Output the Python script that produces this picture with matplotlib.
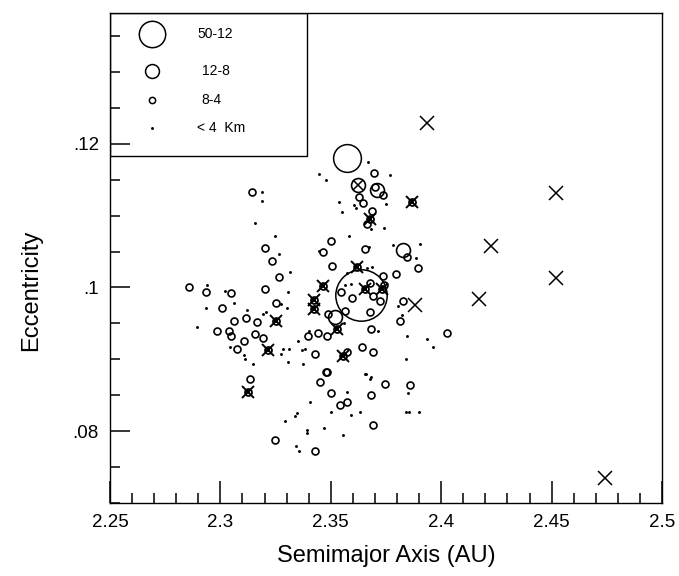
import numpy as np
import matplotlib.pyplot as plt
from matplotlib.patches import Rectangle
from matplotlib.ticker import MultipleLocator, FixedLocator

plt.rcParams["font.family"] = ["Liberation Sans", "DejaVu Sans"]

# asteroids < 4 km
tiny_a = [2.3446, 2.3187, 2.3187, 2.3156, 2.3246, 2.3264, 2.3446, 2.3668, 2.3477, 2.3767,
          2.3536, 2.3550, 2.3604, 2.3613, 2.3749, 2.3681, 2.3740, 2.3582, 2.3672, 2.3781,
          2.3903, 2.3885, 2.3663, 2.3686, 2.3573, 2.3564, 2.3591, 2.3804, 2.3822, 2.3559,
          2.3713, 2.3845, 2.3935, 2.3962, 2.3840, 2.3659, 2.3681, 2.3314, 2.2938, 2.3020,
          2.3305, 2.3061, 2.3274, 2.3301, 2.2934, 2.3119, 2.3192, 2.3206, 2.3042, 2.3106,
          2.3110, 2.3147, 2.3283, 2.3310, 2.3274, 2.3351, 2.3369, 2.3382, 2.3305, 2.3373,
          2.3400, 2.2893, 2.3573, 2.3654, 2.3677, 2.3405, 2.3500, 2.3591, 2.3631, 2.3346,
          2.3337, 2.3292, 2.3391, 2.3391, 2.3468, 2.3554, 2.3341, 2.3355, 2.3849, 2.3840,
          2.3854, 2.3899]
tiny_e = [0.1158, 0.1133, 0.1120, 0.1090, 0.1072, 0.1046, 0.1051, 0.1175, 0.1150, 0.1157,
          0.1119, 0.1105, 0.1115, 0.1111, 0.1116, 0.1081, 0.1083, 0.1072, 0.1056, 0.1059,
          0.1060, 0.1041, 0.1027, 0.1028, 0.1020, 0.1003, 0.1005, 0.0974, 0.0961, 0.0950,
          0.0940, 0.0933, 0.0928, 0.0917, 0.0900, 0.0880, 0.0875, 0.1021, 0.1003, 0.0995,
          0.0993, 0.0979, 0.0977, 0.0972, 0.0972, 0.0968, 0.0963, 0.0966, 0.0917, 0.0906,
          0.0901, 0.0894, 0.0915, 0.0915, 0.0907, 0.0925, 0.0913, 0.0914, 0.0896, 0.0894,
          0.0940, 0.0945, 0.0854, 0.0879, 0.0873, 0.0840, 0.0826, 0.0823, 0.0826, 0.0825,
          0.0821, 0.0814, 0.0802, 0.0797, 0.0804, 0.0794, 0.0779, 0.0773, 0.0853, 0.0826,
          0.0827, 0.0827]

# 8-4 km
small_a = [2.3142, 2.3201, 2.3233, 2.3695, 2.3627, 2.3645, 2.3736, 2.3686, 2.3663, 2.3500,
           2.3464, 2.3654, 2.3845, 2.3505, 2.3894, 2.3736, 2.3795, 2.3677, 2.3740, 2.3545,
           2.3595, 2.3690, 2.3722, 2.3826, 2.3564, 2.3677, 2.3487, 2.3813, 2.3681, 2.3482,
           2.3641, 2.3690, 2.3573, 2.3482, 2.3264, 2.2934, 2.3047, 2.3201, 2.3251, 2.3006,
           2.3061, 2.3115, 2.3165, 2.3156, 2.2984, 2.3038, 2.3047, 2.3192, 2.3106, 2.3074,
           2.3428, 2.3396, 2.3441, 2.3133, 2.3477, 2.3450, 2.3500, 2.3745, 2.3681, 2.3541,
           2.3573, 2.3690, 2.3246, 2.3428, 2.3858, 2.2857, 2.4026, 2.3700]
small_e = [0.1133, 0.1055, 0.1037, 0.1159, 0.1126, 0.1118, 0.1129, 0.1106, 0.1088, 0.1065,
           0.1049, 0.1053, 0.1042, 0.1030, 0.1027, 0.1016, 0.1019, 0.1006, 0.1003, 0.0993,
           0.0986, 0.0988, 0.0981, 0.0981, 0.0967, 0.0966, 0.0963, 0.0954, 0.0942, 0.0933,
           0.0917, 0.0910, 0.0910, 0.0883, 0.1014, 0.0993, 0.0992, 0.0998, 0.0979, 0.0971,
           0.0954, 0.0957, 0.0952, 0.0935, 0.0939, 0.0939, 0.0933, 0.0929, 0.0925, 0.0914,
           0.0908, 0.0933, 0.0936, 0.0873, 0.0882, 0.0868, 0.0853, 0.0865, 0.0850, 0.0837,
           0.0840, 0.0809, 0.0788, 0.0773, 0.0864, 0.1000, 0.0936, 0.1140]

# 12-8 km
mid_a = [2.3709, 2.3826, 2.3518]
mid_e = [0.1136, 0.1052, 0.0959]

# 50-12 km
large_a = [2.3573]
large_e = [0.1180]

# largest member
parent_a = [2.3636]
parent_e = [0.0990]

# crossed circles
ocross_a = [2.3622]
ocross_e = [0.1143]

# crossed small circles
xcirc_a = [2.3867, 2.3677, 2.3618, 2.3464, 2.3654, 2.3731, 2.3527, 2.3554, 2.3423, 2.3423,
           2.3251, 2.3215, 2.3124]
xcirc_e = [0.1119, 0.1095, 0.1028, 0.1002, 0.0998, 0.0998, 0.0942, 0.0904, 0.0982, 0.0970,
           0.0954, 0.0913, 0.0854]

# plain crosses
xmark_a = [2.3935, 2.4520, 2.4171, 2.4225, 2.4520, 2.4742, 2.3881]
xmark_e = [0.1229, 0.1132, 0.0984, 0.1058, 0.1013, 0.0735, 0.0975]

x_ticks = [2.25, 2.3, 2.35, 2.4, 2.45, 2.5]
x_ticklabels = ["2.25", "2.3", "2.35", "2.4", "2.45", "2.5"]
y_ticks = [0.08, 0.1, 0.12]
y_ticklabels = [".08", ".1", ".12"]

fig = plt.figure(figsize=(6.79, 5.76), dpi=100)
ax = fig.add_axes([110 / 679, 73 / 576, 552 / 679, 490 / 576])

def ring(a, e, ms, mew=1.2):
    ax.plot(a, e, ls="none", marker="o", mfc="none", mec="k", ms=ms, mew=mew)

ax.plot(tiny_a, tiny_e, ls="none", marker="o", color="k", ms=2.1, mew=0)
ring(small_a, small_e, 5)
ring(mid_a, mid_e, 10)
ring(large_a, large_e, 20, 1.1)
ring(parent_a, parent_e, 37, 1.1)
ring(ocross_a, ocross_e, 10)
ax.plot(ocross_a, ocross_e, ls="none", marker="x", color="k", ms=7, mew=1.1)
ring(xcirc_a, xcirc_e, 5, 1.3)
ax.plot(xcirc_a, xcirc_e, ls="none", marker="s", color="k", ms=2.5, mew=0)
ax.plot(xcirc_a, xcirc_e, ls="none", marker="x", color="k", ms=9, mew=1.4)
ax.plot(xmark_a, xmark_e, ls="none", marker="x", color="k", ms=10, mew=1.1)

ax.set_xlim(2.25, 2.5)
ax.set_ylim(0.07, 0.1382)
ax.xaxis.set_major_locator(FixedLocator(x_ticks))
ax.xaxis.set_minor_locator(MultipleLocator(0.01))
ax.yaxis.set_major_locator(FixedLocator(y_ticks))
ax.yaxis.set_minor_locator(MultipleLocator(0.005))
ax.set_xticklabels(x_ticklabels)
ax.set_yticklabels(y_ticklabels)
ax.tick_params(which="both", direction="in", top=False, right=False, width=1.1,
               labelsize=13.5, pad=8)
ax.tick_params(axis="x", which="major", length=16)
ax.tick_params(axis="y", which="major", length=14.5)
ax.tick_params(which="minor", length=7)
for s in ax.spines.values():
    s.set_linewidth(1.0)

ax.set_xlabel("Semimajor Axis (AU)", fontsize=17)
ax.set_ylabel("Eccentricity", fontsize=17)
ax.xaxis.set_label_coords(0.5, -0.085)
ax.yaxis.set_label_coords(-0.123, 0.435)

# legend box
ax.add_patch(Rectangle((0, 0.708), 0.357, 0.292, transform=ax.transAxes,
                       fill=False, ec="k", lw=1.0))
leg_y = [0.957, 0.882, 0.822, 0.765]
leg_ms = [19, 10, 4.5]
leg_txt = ["50-12", "12-8", "8-4", "< 4  Km"]
leg_tx = [0.158, 0.167, 0.165, 0.158]
for y, ms in zip(leg_y[:3], leg_ms):
    ax.plot([0.076], [y], transform=ax.transAxes, ls="none", marker="o",
            mfc="none", mec="k", ms=ms, mew=1.1)
ax.plot([0.076], [leg_y[3]], transform=ax.transAxes, ls="none", marker="o",
        color="k", ms=2.1, mew=0)
for y, t, x in zip(leg_y, leg_txt, leg_tx):
    ax.text(x, y, t, transform=ax.transAxes, fontsize=10, va="center", ha="left")

fig.savefig("out.png", dpi=100)
